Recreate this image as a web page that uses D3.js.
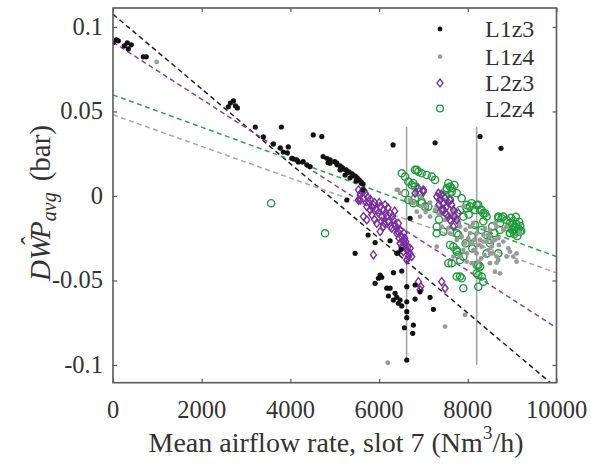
<!DOCTYPE html>
<html>
<head>
<meta charset="utf-8">
<script src="https://cdn.jsdelivr.net/npm/d3@7"></script>
<style>
  html, body { margin: 0; padding: 0; background: #fff; }
</style>
</head>
<body>
<svg id="chart" width="591" height="465"></svg>
<script>
// ---- data: [airflow (Nm3/h), DWP (bar)] ----
const l1z3 = [
  [0,0.0906],[74,0.0923],[120,0.0918],[255,0.0888],[322,0.0906],[345,0.087],[412,0.0894],[683,0.0823],[750,0.0823],
  [2600,0.0527],[2647,0.055],[2715,0.0562],[2760,0.0533],[2804,0.0521],
  [3208,0.0408],[3390,0.0349],[3616,0.0308],[3796,0.0408],[3773,0.0284],[3840,0.026],[3953,0.029],[3931,0.0255],[4066,0.0219],[4179,0.0201],
  [4515,0.0361],[4708,0.0351],[4033,0.0223],[4145,0.0213],[4289,0.0203],[4371,0.0184],[4445,0.0174],
  [4738,0.0233],[4821,0.0223],[4896,0.0213],[4851,0.0197],[4896,0.0194],
  [5047,0.0194],[5121,0.0178],[5189,0.016],[5256,0.0154],[5324,0.0142],[5392,0.013],[5459,0.0118],[5504,0.0107],
  [5549,0.0095],[5594,0.0083],[5639,0.0071],[5234,0.0124],[5347,0.0107],[5482,0.0089],[5121,0.0154],[5054,0.0184],
  [5000,0.0203],[5170,0.0168],[5290,0.014],[5420,0.012],[5520,0.0098],[5600,0.0075],
  [6315,0.0302],[7262,0.0314],[8275,0.0351],[8749,0.0282],
  [5272,-0.0024],[5639,0.0036],[6698,-0.0132],
  [5752,-0.0231],[5910,-0.0276],[6248,-0.0265],[6399,-0.034],[5459,-0.034],[6496,-0.0316],[6428,-0.0337],
  [6023,-0.0468],[5985,-0.0487],[6060,-0.0481],[5910,-0.0517],[6323,-0.0454],[6511,-0.0444],[6173,-0.0546],
  [6248,-0.0546],[6210,-0.0592],[6360,-0.0576],[6399,-0.06],[6323,-0.0616],[6473,-0.0616],[6436,-0.0635],
  [6511,-0.0651],[6624,-0.0537],[6811,-0.0527],[6924,-0.0567],[6624,-0.0626],[6811,-0.061],[7149,-0.06],
  [7224,-0.0671],[6624,-0.0685],[6624,-0.072],[6773,-0.0764],[6570,-0.078],[6758,-0.0813],[6624,-0.0971]
];
const l1z4 = [
  [985,0.0793],[6399,0.0036],[7488,-0.0773],[6195,-0.0987],[7937,-0.0704],
  [6849,-0.0093],[7036,-0.0063],[7262,-0.0083],[7412,-0.0182],[7487,-0.0142],[7674,-0.0083],[7750,-0.0142],
  [7825,-0.0182],[7862,-0.0241],[7937,-0.028],[7900,-0.032],[8012,-0.025],[8088,-0.028],[8125,-0.032],
  [8200,-0.0221],[8275,-0.026],[8350,-0.0231],[8425,-0.027],[8500,-0.0241],[8538,-0.03],[8613,-0.026],
  [8650,-0.0359],[8725,-0.0458],[8613,-0.0448],[8913,-0.031],[9025,-0.0359],[9100,-0.0389],[8950,-0.033],
  [8613,-0.0162],[8800,-0.0201],[7674,-0.0359],[7825,-0.0359],[7975,-0.0389],[8237,-0.0389],[8088,-0.0398],
  [8313,-0.03],[8462,-0.032],[6773,-0.0043],[6923,-0.0122],[7149,-0.0122],[7336,-0.0024],[7562,-0.0191],
  [7599,-0.0221],[8388,-0.0191],[8688,-0.025],
  [6962,-0.0004],[6849,0.0016],[6428,0.0036],[6473,0.0018],[6698,-0.0024],[7299,-0.0063],[7525,-0.0024],
  [8050,-0.0182],[7900,-0.0063],[8500,-0.0201],[8650,-0.0182],
  [8650,-0.0395],[8500,-0.034],[8163,-0.032],[7299,-0.03],[7750,-0.026],[8200,-0.034],[8500,-0.0398],
  [8688,-0.0379],[8875,-0.0359],[9100,-0.034],[8875,-0.0182],[9175,-0.0221],
  [7700,-0.012],[7800,-0.016],[7950,-0.02],[8050,-0.022],[8150,-0.026],[8250,-0.029],[8350,-0.027],
  [8450,-0.023],[8550,-0.027],[8700,-0.029],[8800,-0.027],[8380,-0.035],[8300,-0.037],[7980,-0.034],
  [7600,-0.011],[7350,-0.011],[7050,-0.0095],[6950,-0.006],[7150,-0.004],[8120,-0.016],[8560,-0.034]
];
const l2z3 = [
  [5534,0.0036],[5572,0.0006],[5647,-0.0014],[5685,0.0016],[5534,-0.0024],[5760,-0.0034],[5722,-0.0063],
  [5797,-0.0083],[5872,-0.0053],[5947,-0.0083],[5835,-0.0112],[6023,-0.0063],[6098,-0.0083],[6135,-0.0053],
  [6060,-0.0122],[6173,-0.0122],[6210,-0.0152],[6248,-0.0102],[6323,-0.0142],[6360,-0.0172],[6285,-0.0191],
  [6436,-0.0162],[6473,-0.0201],[6398,-0.0221],[6511,-0.0241],[6548,-0.027],[6511,-0.03],[6585,-0.029],
  [6624,-0.032],[6698,-0.034],[6736,-0.0359],[5872,-0.0349],[5947,-0.0162],[6098,-0.0182],[5647,-0.0122],
  [5722,-0.0142],[6023,-0.0211],[6473,-0.028],[6548,-0.033],[6661,-0.0359],[6624,-0.0379],[6886,-0.0507],
  [6940,-0.0537],[6924,-0.0556],[7412,-0.0507],[7487,-0.0546],
  [5610,0.0025],[5572,-0.0024],[6811,0.0016],[6998,0.0025],[6886,0.0046],[7299,-0.0004],
  [7374,-0.0024],[7449,-0.0043],[7525,-0.0063],[7412,-0.0083],[7599,-0.0024],[7674,-0.0083],[7562,-0.0122],
  [7750,-0.0142],[7336,0.0016],[7637,-0.0053],[7787,-0.0102],[7487,-0.0014],[6998,0.0036],[7599,-0.0142],[7674,-0.0182],
  [5800,-0.002],[5900,-0.004],[5980,-0.01],[6150,-0.01],[6300,-0.012],[6400,-0.019],[6450,-0.025],
  [6580,-0.025],[6650,-0.03],[6050,-0.015],[5900,-0.014],
  [5660,0.003],[5750,-0.001],[5850,-0.007],[6000,-0.004],[6200,-0.007],[6350,-0.009],[6120,-0.016],
  [6250,-0.018],[6420,-0.021],[6560,-0.022],[6600,-0.027],[6700,-0.031],[7450,-0.008],[7520,-0.011],
  [7700,-0.012],[7400,0.001],[7560,-0.004],[7350,-0.005]
];
const l2z4 = [
  [3565,-0.0043],[4783,-0.0221],
  [6511,0.0134],[6586,0.0114],[6661,0.0085],[6811,0.0154],[6886,0.0144],[6961,0.0134],[7074,0.0124],
  [7187,0.0114],[7262,0.0095],[6736,0.0065],[6811,0.0055],[6886,0.0025],[6586,0.0016],[6661,-0.0024],
  [6773,-0.0043],[6961,-0.0034],[7036,-0.0063],[7525,0.0046],[7599,0.0055],[7637,0.0025],[7487,0.0006],
  [7750,0.0016],[7862,-0.0014],[7975,-0.0053],[8088,-0.0043],[8200,-0.0053],[8313,-0.0083],[8350,-0.0102],
  [8163,-0.0083],[7900,-0.0122],[8688,-0.0132],[8800,-0.0122],[8725,-0.0162],
  [8875,-0.0142],[8950,-0.016],[9025,-0.0148],[9092,-0.0166],[9160,-0.0154],[8913,-0.019],[9003,-0.0201],
  [9070,-0.0184],[9138,-0.0195],[9205,-0.0207],[8950,-0.0219],[9048,-0.0225],[9115,-0.0237],[9183,-0.0178],
  [8973,-0.013],[9085,-0.0124],
  [6849,0.0154],[6773,0.0075],[6811,-0.0014],[6962,-0.0043],[7111,-0.0063],[7525,0.0036],[7637,0.0046],
  [7449,-0.0004],[7599,-0.0024],[7299,-0.0182],[7299,-0.0221],[7750,-0.0221],[7825,-0.0083],[7975,-0.0073],
  [8050,-0.0063],[8237,-0.0053],[8275,-0.0083],[8388,-0.0102],[8425,-0.0122],[8163,-0.0172],[8313,-0.0201],
  [7674,-0.03],[7750,-0.032],[7787,-0.0349],[7900,-0.0359],[7637,-0.0398],[7825,-0.0477],[8200,-0.0408],
  [8275,-0.0418],[8200,-0.0458],[8313,-0.0477],[8425,-0.034],[8500,-0.026],[8688,-0.0122],[8763,-0.0132],
  [9175,-0.0211],[7562,-0.0398],[7750,-0.033],[7825,-0.0379],[7750,-0.0477],[7862,-0.0487],[7900,-0.0546],
  [8237,-0.0408],[8237,-0.0468],[8350,-0.0507],[8237,-0.0537],[8500,-0.028],[8688,-0.034],[7599,-0.029],
  [7449,-0.0211],[7787,-0.0231],[8088,-0.0241],[8425,-0.0231],[8725,-0.0201],[8950,-0.0221],[9100,-0.0211],
  [7700,0.0065],[7560,0.0075],[7400,-0.009],[7350,-0.014],[7700,-0.017],[7950,-0.028],[8100,-0.031],
  [8350,-0.015],[8550,-0.018],[8600,-0.022],[8020,-0.011],[9000,-0.017],[9050,-0.02]
];

// linear fits: value at 0 and at 10000 Nm3/h
const fitNames = ["L1z3", "L1z4", "L2z3", "L2z4"];
const fitStart = [0.1075, 0.048, 0.091, 0.0598];
const fitEnd   = [-0.1135, -0.0455, -0.078, -0.0359];

// vertical range markers: x, top, bottom
const rangeX = [6620, 8200];
const rangeTop = [0.041, 0.041];
const rangeBottom = [-0.098, -0.1];

const xTicks = [0, 2000, 4000, 6000, 8000, 10000];
const yTicks = [0.1, 0.05, 0, -0.05, -0.1];
const yTickLabels = ["0.1", "0.05", "0", "-0.05", "-0.1"];

// ---- layout ----
const serif = '"Liberation Serif"';
const svg = d3.select("#chart").style("font-family", serif);
const plotL = 113, plotT = 8, plotR = 556.5, plotB = 382.7;
const x = d3.scaleLinear().domain([0, 10000]).range([plotL, plotR]);
const y = d3.scaleLinear().domain([-0.1105, 0.1112]).range([plotB, plotT]);

const colors = { L1z3: "#111111", L1z4: "#9a9a9a", L2z3: "#7a2e9e", L2z4: "#1f9b3b" };
const fitColors = ["#222222", "#a8a8a8", "#8a3fb0", "#2aa548"];
const axisColor = "#5a5a5a";
const textColor = "#333333";

svg.append("defs").append("clipPath").attr("id", "plotClip")
  .append("rect").attr("x", plotL).attr("y", plotT).attr("width", plotR - plotL).attr("height", plotB - plotT);

// axes with inward ticks on all four sides
const tickLen = 4;
const styleTicks = g => { g.select(".domain").remove(); g.selectAll("line").attr("stroke", axisColor).attr("stroke-width", 1.2); };
svg.append("g").attr("transform", `translate(0,${plotB})`)
  .call(d3.axisBottom(x).tickValues(xTicks).tickSize(-tickLen).tickFormat("")).call(styleTicks);
svg.append("g").attr("transform", `translate(0,${plotT})`)
  .call(d3.axisTop(x).tickValues(xTicks).tickSize(-tickLen).tickFormat("")).call(styleTicks);
svg.append("g").attr("transform", `translate(${plotL},0)`)
  .call(d3.axisLeft(y).tickValues(yTicks).tickSize(-tickLen).tickFormat("")).call(styleTicks);
svg.append("g").attr("transform", `translate(${plotR},0)`)
  .call(d3.axisRight(y).tickValues(yTicks).tickSize(-tickLen).tickFormat("")).call(styleTicks);

// tick labels
svg.append("g").selectAll("text").data(xTicks).join("text")
  .style("font-family", serif)
  .attr("x", d => x(d)).attr("y", plotB + 35).attr("text-anchor", "middle")
  .attr("font-size", 24.5).attr("fill", textColor).text(d => d);
svg.append("g").selectAll("text").data(yTicks).join("text")
  .style("font-family", serif)
  .attr("x", plotL - 10).attr("y", d => y(d) + 8).attr("text-anchor", "end")
  .attr("font-size", 24.5).attr("fill", textColor).text((d, i) => yTickLabels[i]);

const plot = svg.append("g").attr("clip-path", "url(#plotClip)");

// vertical range markers
plot.append("g").selectAll("line").data(rangeX).join("line")
  .attr("x1", d => x(d)).attr("x2", d => x(d))
  .attr("y1", (d, i) => y(rangeTop[i])).attr("y2", (d, i) => y(rangeBottom[i]))
  .attr("stroke", "#a0a0a0").attr("stroke-width", 1.5);

// dashed fit lines
plot.append("g").selectAll("line").data(fitNames).join("line")
  .attr("x1", x(0)).attr("x2", x(10000))
  .attr("y1", (d, i) => y(fitStart[i])).attr("y2", (d, i) => y(fitEnd[i]))
  .attr("stroke", (d, i) => fitColors[i]).attr("stroke-width", 1.5)
  .attr("stroke-dasharray", "5,3.5");

// markers
const diamond = (cx, cy) => `M${cx},${cy - 4}L${cx + 3},${cy}L${cx},${cy + 4}L${cx - 3},${cy}Z`;

plot.append("g").selectAll("circle").data(l2z4).join("circle")
  .attr("cx", d => x(d[0])).attr("cy", d => y(d[1])).attr("r", 3.6)
  .attr("fill", "none").attr("stroke", colors.L2z4).attr("stroke-width", 1.4);
plot.append("g").selectAll("circle").data(l1z4).join("circle")
  .attr("cx", d => x(d[0])).attr("cy", d => y(d[1])).attr("r", 2.4)
  .attr("fill", colors.L1z4);
plot.append("g").selectAll("path").data(l2z3).join("path")
  .attr("d", d => diamond(x(d[0]), y(d[1])))
  .attr("fill", "none").attr("stroke", colors.L2z3).attr("stroke-width", 1.4);
plot.append("g").selectAll("circle").data(l1z3).join("circle")
  .attr("cx", d => x(d[0])).attr("cy", d => y(d[1])).attr("r", 2.6)
  .attr("fill", colors.L1z3);

// frame
svg.append("rect").attr("x", plotL).attr("y", plotT).attr("width", plotR - plotL).attr("height", plotB - plotT)
  .attr("fill", "none").attr("stroke", axisColor).attr("stroke-width", 1.6);

// legend
const legendRows = [29, 56.5, 83, 108.5];
const lg = svg.append("g");
fitNames.forEach((name, i) => {
  const cy = legendRows[i], cx = 440;
  if (name === "L1z3") lg.append("circle").attr("cx", cx).attr("cy", cy).attr("r", 2.4).attr("fill", colors.L1z3);
  if (name === "L1z4") lg.append("circle").attr("cx", cx).attr("cy", cy).attr("r", 2.2).attr("fill", colors.L1z4);
  if (name === "L2z3") lg.append("path").attr("d", diamond(cx, cy)).attr("fill", "none").attr("stroke", colors.L2z3).attr("stroke-width", 1.3);
  if (name === "L2z4") lg.append("circle").attr("cx", cx).attr("cy", cy).attr("r", 3.4).attr("fill", "none").attr("stroke", colors.L2z4).attr("stroke-width", 1.4);
  lg.append("text").style("font-family", serif)
    .attr("x", 485).attr("y", cy + 8).attr("font-size", 24).attr("fill", textColor).text(name);
});

// axis titles
const xt = svg.append("text").style("font-family", serif)
  .attr("x", 336).attr("y", 452).attr("text-anchor", "middle")
  .attr("font-size", 28).attr("fill", textColor);
xt.append("tspan").text("Mean airflow rate, slot 7 (Nm");
xt.append("tspan").attr("font-size", 19).attr("dy", -13).text("3");
xt.append("tspan").attr("dy", 13).text("/h)");

const yt = svg.append("text").style("font-family", serif)
  .attr("transform", "translate(50,203) rotate(-90)")
  .attr("text-anchor", "middle").attr("font-size", 29).attr("fill", textColor);
yt.append("tspan").attr("font-style", "italic").text("DW");
yt.append("tspan").attr("font-style", "italic").attr("dx", -11).attr("dy", -10).attr("font-size", 27).text("\u02C6");
yt.append("tspan").attr("font-style", "italic").attr("dx", -1).attr("dy", 10).text("P");
yt.append("tspan").attr("font-style", "italic").attr("font-size", 20).attr("dy", 6).text("avg");
yt.append("tspan").attr("dy", -6).attr("dx", 11).text("(bar)");
</script>
</body>
</html>
